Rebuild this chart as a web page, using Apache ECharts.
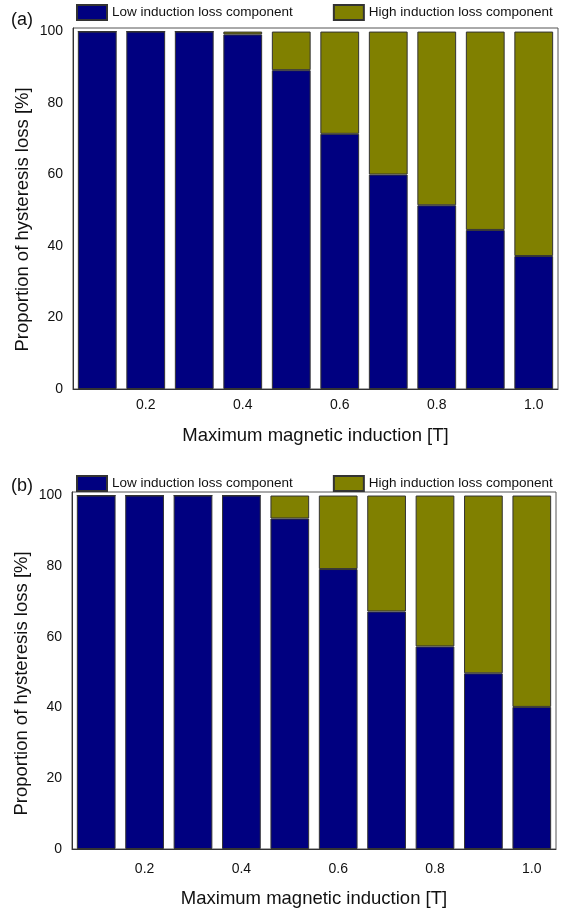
<!DOCTYPE html>
<html>
<head>
<meta charset="utf-8">
<script src="https://cdn.jsdelivr.net/npm/echarts@6/dist/echarts.min.js"></script>
<style>
  html, body { margin: 0; padding: 0; background: #fff; }
  #chart { width: 564px; height: 909px; }
</style>
</head>
<body>
<div id="chart"></div>
<script>
// categories: maximum magnetic induction [T]
var inductions = ['0.1', '0.2', '0.3', '0.4', '0.5', '0.6', '0.7', '0.8', '0.9', '1.0']

// panel (a) proportions [%]
var lowA = [100, 100, 100, 99.2, 89.2, 71.4, 60.0, 51.4, 44.5, 37.2]
var highA = [0, 0, 0, 0.8, 10.8, 28.6, 40.0, 48.6, 55.5, 62.8]

// panel (b) proportions [%]
var lowB = [100, 100, 100, 100, 93.5, 79.2, 67.2, 57.3, 49.7, 40.2]
var highB = [0, 0, 0, 0, 6.5, 20.8, 32.8, 42.7, 50.3, 59.8]

var yTicks = [0, 20, 40, 60, 80, 100]

var FONT = 'Liberation Sans, Arial, sans-serif'
var LOW_NAME = 'Low induction loss component'
var HIGH_NAME = 'High induction loss component'

var chart = echarts.init(document.getElementById('chart'))

function xAxisFor(gridIndex, labelMargin, nameGap) {
  return {
    type: 'category',
    gridIndex: gridIndex,
    data: inductions,
    axisTick: { show: false },
    axisLine: { lineStyle: { color: '#333', width: 1 } },
    axisLabel: {
      interval: function (i) { return i % 2 === 1 },
      margin: labelMargin,
      color: '#111',
      fontSize: 14,
      fontFamily: FONT
    },
    name: 'Maximum magnetic induction [T]',
    nameLocation: 'middle',
    nameGap: nameGap,
    nameMoveOverlap: false,
    nameTextStyle: { fontSize: 18.5, color: '#111', fontFamily: FONT }
  }
}

function yAxisFor(gridIndex, shift) {
  return {
    type: 'value',
    gridIndex: gridIndex,
    min: 0,
    max: 101,
    interval: 20,
    axisTick: { show: false },
    splitLine: { show: false },
    axisLine: { show: true, lineStyle: { color: '#333', width: 1 } },
    axisLabel: {
      margin: 10,
      color: '#111',
      fontSize: 14,
      fontFamily: FONT,
      formatter: function (v) { return yTicks.indexOf(v) >= 0 ? String(v) : '' }
    },
    name: 'Proportion of hysteresis loss [%]',
    nameLocation: 'middle',
    nameGap: 41,
    nameMoveOverlap: false,
    nameTextStyle: { fontSize: 18.5, color: '#111', fontFamily: FONT, padding: [0, shift, 0, 0] }
  }
}

function barSeries(name, data, color, idx, stack) {
  return {
    name: name,
    type: 'bar',
    stack: stack,
    xAxisIndex: idx,
    yAxisIndex: idx,
    barWidth: '80%',
    data: data,
    itemStyle: { color: color, borderColor: '#333', borderWidth: 1 }
  }
}

function legendFor(top) {
  return {
    top: top,
    left: 76,
    padding: 0,
    itemWidth: 30,
    itemHeight: 15,
    itemGap: 40,
    icon: 'rect',
    selectedMode: false,
    textStyle: { fontSize: 13.5, color: '#111', fontFamily: FONT },
    data: [LOW_NAME, HIGH_NAME]
  }
}

chart.setOption({
  backgroundColor: '#fff',
  animation: false,
  title: [
    { text: '(a)', left: 6, top: 6, textStyle: { fontSize: 18, fontWeight: 'normal', color: '#111', fontFamily: FONT } },
    { text: '(b)', left: 6, top: 472, textStyle: { fontSize: 18, fontWeight: 'normal', color: '#111', fontFamily: FONT } }
  ],
  legend: [legendFor(4), legendFor(475)],
  grid: [
    { left: 73, right: 6, top: 28, bottom: 520, show: true, borderColor: '#555', borderWidth: 1 },
    { left: 72, right: 8, top: 492, bottom: 60, show: true, borderColor: '#555', borderWidth: 1 }
  ],
  xAxis: [xAxisFor(0, 9, 37), xAxisFor(1, 13, 40)],
  yAxis: [yAxisFor(0, 22), yAxisFor(1, 26)],
  series: [
    barSeries(LOW_NAME, lowA, '#000080', 0, 'a'),
    barSeries(HIGH_NAME, highA, '#808000', 0, 'a'),
    barSeries(LOW_NAME, lowB, '#000080', 1, 'b'),
    barSeries(HIGH_NAME, highB, '#808000', 1, 'b')
  ]
})
</script>
</body>
</html>
